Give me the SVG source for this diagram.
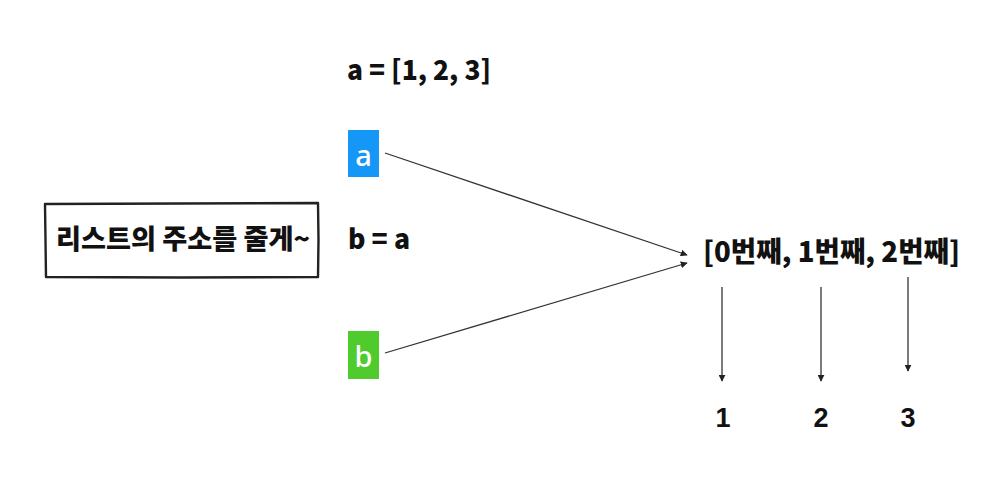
<svg xmlns="http://www.w3.org/2000/svg" width="1008" height="490" viewBox="0 0 1008 490">
<style>
.t{font-family:"Noto Sans CJK KR","Noto Sans",sans-serif;font-weight:900;fill:#111}
.n{font-family:"Liberation Sans",Arial,sans-serif;font-weight:bold;fill:#111;font-size:27px;text-anchor:middle}
.c{stroke:#333;stroke-width:1.3;fill:none;marker-end:url(#ah)}
.v{font-family:"Noto Sans","Open Sans",sans-serif;font-weight:500;fill:#fff;font-size:29px;text-anchor:middle}
</style>
<defs>
<marker id="ah" viewBox="0 0 10 10" refX="9" refY="5" markerWidth="7" markerHeight="7" markerUnits="userSpaceOnUse" orient="auto">
<path d="M0,0 L10,5 L0,10 z" fill="#222"/>
</marker>
</defs>
<rect width="1008" height="490" fill="#fff"/>
<g id="note">
<path d="M45,204 L182,203.5 L318,203 L318.5,240 L318,277 L180,277.5 L46,277 L45.5,240 Z" fill="none" stroke="#222" stroke-width="2.4" stroke-linejoin="round"/>
<text class="t" x="183" y="249" font-size="27" text-anchor="middle" textLength="254" lengthAdjust="spacingAndGlyphs">리스트의 주소를 줄게~</text>
</g>
<g id="code-a"><text class="t" x="347" y="80" font-size="27.5" textLength="144" lengthAdjust="spacingAndGlyphs">a = [1, 2, 3]</text></g>
<g id="code-b"><text class="t" x="348" y="249" font-size="27" textLength="62" lengthAdjust="spacingAndGlyphs">b = a</text></g>
<g id="var-a">
<rect x="348" y="130" width="31" height="47" fill="#1597f8"/>
<text class="v" x="363.5" y="166">a</text>
</g>
<g id="var-b">
<rect x="348" y="331" width="31" height="48" fill="#4fcb2e"/>
<text class="v" x="363.5" y="367">b</text>
</g>
<g id="list"><text class="t" x="703" y="262" font-size="28" textLength="257" lengthAdjust="spacingAndGlyphs">[0번째, 1번째, 2번째]</text></g>
<g id="v1"><text class="n" x="723" y="427">1</text></g>
<g id="v2"><text class="n" x="821" y="427">2</text></g>
<g id="v3"><text class="n" x="908" y="427">3</text></g>
<g id="connectors">
<line class="c" x1="385" y1="153" x2="687" y2="255"/>
<line class="c" x1="385" y1="353" x2="687" y2="263"/>
<line class="c" x1="722" y1="287" x2="722" y2="381"/>
<line class="c" x1="821" y1="287" x2="821" y2="381"/>
<line class="c" x1="908" y1="277" x2="908" y2="371"/>
</g>
</svg>
